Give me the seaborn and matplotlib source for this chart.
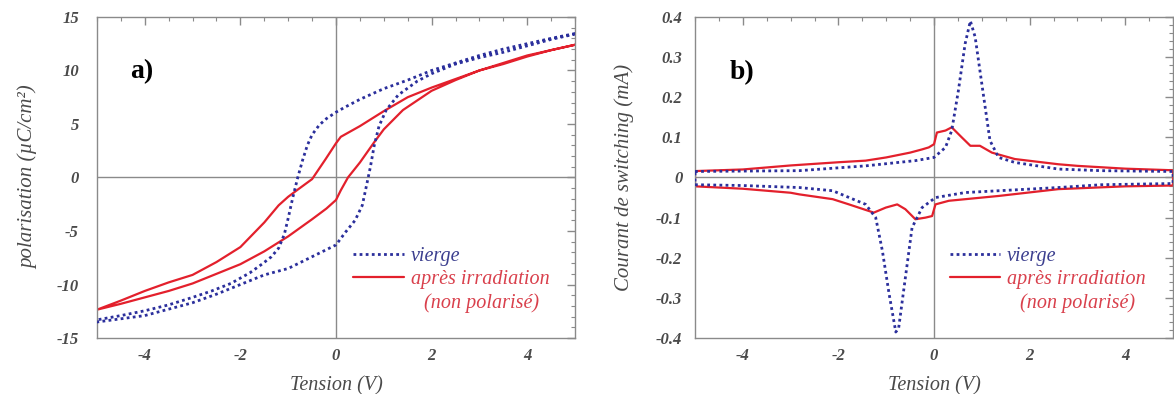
import numpy as np
import pandas as pd
import matplotlib
matplotlib.use("Agg")
import matplotlib.pyplot as plt
from matplotlib.lines import Line2D
from matplotlib.ticker import MultipleLocator
import seaborn as sns

# ---------------- data: panel a (polarisation hysteresis) ----------------
vierge_down_V = [5, 4.5, 4, 3.5, 3, 2.5, 2, 1.5, 1, 0.5, 0.2, 0, -0.2, -0.35, -0.5, -0.6, -0.7, -0.8, -0.9, -1.0,
                 -1.08, -1.2, -1.35, -1.55, -1.8, -2.2, -2.6, -3, -3.5, -4, -4.5, -5]
vierge_down_P = [13.45, 13.0, 12.5, 12.0, 11.4, 10.7, 10.0, 9.1, 8.3, 7.3, 6.6, 6.1, 5.5, 4.9, 4.0, 3.0, 1.6, 0, -1.8, -3.8,
                 -5.3, -6.6, -7.4, -8.1, -8.9, -9.9, -10.6, -11.2, -11.9, -12.45, -12.9, -13.3]
vierge_up_V = [-5, -4.5, -4, -3.5, -3, -2.5, -2, -1.5, -1, -0.5, 0, 0.2, 0.4, 0.55, 0.65, 0.72, 0.8, 0.9, 1.05, 1.3,
               1.7, 2, 2.5, 3, 3.5, 4, 4.5, 5]
vierge_up_P = [-13.5, -13.2, -12.9, -12.3, -11.7, -10.9, -10.0, -9.1, -8.5, -7.4, -6.3, -5.1, -4.0, -2.6, -0.5, 1.0, 3.0, 4.8, 6.3, 7.7,
               9.0, 9.7, 10.6, 11.2, 11.7, 12.3, 12.9, 13.4]

irr_down_V = [5, 4.5, 4, 3.5, 3, 2.5, 2, 1.5, 1, 0.5, 0.1, 0, -0.22, -0.5, -0.79, -1.0, -1.2, -1.5, -2.0, -2.5,
              -3, -3.5, -4, -4.5, -5]
irr_down_P = [12.4, 11.9, 11.3, 10.6, 10.0, 9.2, 8.4, 7.5, 6.2, 4.8, 3.8, 3.2, 1.7, -0.15, -1.1, -1.8, -2.6, -4.2, -6.5, -7.9,
              -9.1, -9.8, -10.6, -11.5, -12.35]
irr_up_V = [-5, -4.5, -4, -3.5, -3, -2.5, -2, -1.5, -1, -0.5, -0.2, 0, 0.1, 0.25, 0.5, 0.8, 1.0, 1.4, 2, 2.5,
            3, 3.5, 4, 4.5, 5]
irr_up_P = [-12.35, -11.8, -11.2, -10.6, -9.9, -9.0, -8.1, -6.9, -5.5, -3.9, -2.9, -2.1, -1.2, 0, 1.4, 3.3, 4.5, 6.3, 8.1, 9.1,
            10.0, 10.7, 11.4, 11.9, 12.4]

# ---------------- data: panel b (switching current) ----------------
vierge_pos_V = [-5, -4, -2.82, -1.43, -0.39, 0, 0.24, 0.37, 0.51, 0.65, 0.76, 0.86, 1.0, 1.17, 1.35, 1.69, 2.6, 3.5, 5]
vierge_pos_I = [0.015, 0.016, 0.017, 0.029, 0.042, 0.05, 0.075, 0.117, 0.217, 0.333, 0.39, 0.35, 0.233, 0.092, 0.05, 0.0375, 0.021, 0.017, 0.015]
vierge_neg_V = [5, 3.5, 2.6, 0.65, 0.03, -0.25, -0.46, -0.6, -0.74, -0.8, -0.94, -1.08, -1.22, -1.43, -2.12, -2.82, -4, -5]
vierge_neg_I = [-0.015, -0.018, -0.025, -0.0375, -0.05, -0.075, -0.125, -0.25, -0.375, -0.385, -0.29, -0.183, -0.1, -0.067, -0.033, -0.025, -0.02, -0.018]

irr_pos_V = [-5, -4, -3, -2, -1.43, -1.0, -0.5, -0.25, -0.11, 0, 0.06, 0.24, 0.37, 0.58, 0.76, 0.96, 1.21, 1.69, 2.6, 3, 4, 5]
irr_pos_I = [0.016, 0.02, 0.03, 0.038, 0.042, 0.05, 0.062, 0.07, 0.075, 0.083, 0.112, 0.117, 0.125, 0.1, 0.079, 0.079, 0.062, 0.046, 0.033, 0.029, 0.022, 0.018]
irr_neg_V = [5, 4, 3, 2.6, 1.35, 0.31, 0.03, -0.04, -0.18, -0.39, -0.6, -0.77, -1.01, -1.26, -1.78, -2.12, -2.82, -3, -4, -5]
irr_neg_I = [-0.02, -0.022, -0.027, -0.029, -0.046, -0.058, -0.067, -0.096, -0.1, -0.104, -0.079, -0.067, -0.075, -0.0875, -0.067, -0.054, -0.042, -0.038, -0.028, -0.022]

label_vierge = "vierge"
label_irr = "après irradiation"
label_irr2 = "(non polarisé)"

BLUE = "#2b2f9c"
RED = "#e3202c"
BLUE_TXT = "#3c3f8f"
RED_TXT = "#d9404c"
GREY = "#8a8a8a"
TICK_TXT = "#4a4a4a"
DOTS = (0, (1.0, 1.2))

sns.set_style("white")
plt.rcParams["font.family"] = ["Liberation Serif", "DejaVu Serif"]

fig = plt.figure(figsize=(11.74, 3.94), dpi=100)
ax_a = fig.add_axes([0.0826, 0.142, 0.4072, 0.815])
ax_b = fig.add_axes([0.592, 0.142, 0.4072, 0.815])


def loop_df(v1, y1, v2, y2):
    V = list(v1) + list(v2)
    Y = list(y1) + list(y2)
    return pd.DataFrame({"V": V, "Y": Y})


def closed_df(v1, y1, v2, y2):
    V = list(v1) + list(v2) + [v1[0]]
    Y = list(y1) + list(y2) + [y1[0]]
    return pd.DataFrame({"V": V, "Y": Y})


def draw(ax, df_v, df_r):
    ax.axhline(0, color=GREY, lw=1.0, zorder=1)
    ax.axvline(0, color=GREY, lw=1.0, zorder=1)
    sns.lineplot(data=df_v, x="V", y="Y", sort=False, estimator=None, ax=ax,
                 color=BLUE, linestyle=DOTS, lw=2.0, zorder=3)
    sns.lineplot(data=df_r, x="V", y="Y", sort=False, estimator=None, ax=ax,
                 color=RED, linestyle="-", lw=1.6, zorder=2)


draw(ax_a, loop_df(vierge_down_V, vierge_down_P, vierge_up_V, vierge_up_P),
     loop_df(irr_down_V, irr_down_P, irr_up_V, irr_up_P))
draw(ax_b, closed_df(vierge_pos_V, vierge_pos_I, vierge_neg_V, vierge_neg_I),
     closed_df(irr_pos_V, irr_pos_I, irr_neg_V, irr_neg_I))

ax_a.set_xlim(-5, 5)
ax_a.set_ylim(-15, 15)
ax_a.xaxis.set_major_locator(MultipleLocator(2))
ax_a.xaxis.set_minor_locator(MultipleLocator(0.5))
ax_a.yaxis.set_major_locator(MultipleLocator(5))
ax_a.yaxis.set_minor_locator(MultipleLocator(1))

ax_b.set_xlim(-5, 5)
ax_b.set_ylim(-0.4, 0.4)
ax_b.xaxis.set_major_locator(MultipleLocator(2))
ax_b.xaxis.set_minor_locator(MultipleLocator(0.5))
ax_b.yaxis.set_major_locator(MultipleLocator(0.1))
ax_b.yaxis.set_minor_locator(MultipleLocator(0.02))

ax_b.yaxis.set_major_formatter(plt.FuncFormatter(lambda v, p: "0" if abs(v) < 1e-9 else f"{v:.1f}"))
ax_a.xaxis.set_major_formatter(plt.FuncFormatter(lambda v, p: f"{int(round(v))}"))
ax_b.xaxis.set_major_formatter(plt.FuncFormatter(lambda v, p: f"{int(round(v))}"))
ax_a.yaxis.set_major_formatter(plt.FuncFormatter(lambda v, p: f"{int(round(v))}"))

for ax, ypad in ((ax_a, 13), (ax_b, 9)):
    for s in ax.spines.values():
        s.set_color(GREY)
        s.set_linewidth(1.0)
    ax.tick_params(which="both", direction="in", top=True, right=True, color=GREY,
                   labelcolor=TICK_TXT, labelsize=12)
    ax.tick_params(which="major", length=6, width=1.0, pad=7)
    ax.tick_params(axis="y", which="major", pad=ypad)
    ax.tick_params(which="minor", length=3, width=0.8)
    for lab in ax.get_xticklabels() + ax.get_yticklabels():
        lab.set_fontstyle("italic")
        lab.set_fontweight("bold")
    ax.set_xlabel("Tension (V)", fontsize=14.5, fontstyle="italic", color=TICK_TXT, labelpad=9)

ax_a.set_ylabel("polarisation (µC/cm²)", fontsize=15, fontstyle="italic", color=TICK_TXT, labelpad=13)
ax_b.set_ylabel("Courant de switching (mA)", fontsize=15, fontstyle="italic", color=TICK_TXT, labelpad=16)

ax_a.text(-4.31, 9.9, "a)", fontsize=20, fontweight="bold", color="black", va="center", ha="left")
ax_b.text(-4.27, 0.262, "b)", fontsize=20, fontweight="bold", color="black", va="center", ha="left")

for ax, anchor in ((ax_a, (0.536, 0.283)), (ax_b, (0.533, 0.283))):
    handles = [Line2D([], [], color=BLUE, linestyle=DOTS, lw=2.0),
               Line2D([], [], color=RED, lw=1.6),
               Line2D([], [], color="none", lw=0)]
    leg = ax.legend(handles, [label_vierge, label_irr, label_irr2], loc="upper left",
                    bbox_to_anchor=anchor, borderaxespad=0, borderpad=0, frameon=False,
                    handlelength=2.5, handletextpad=0.35, labelspacing=0.2,
                    prop={"family": "Liberation Serif", "style": "italic", "size": 14.5})
    texts = leg.get_texts()
    texts[0].set_color(BLUE_TXT)
    texts[1].set_color(RED_TXT)
    texts[2].set_color(RED_TXT)
    texts[2].set_x(13)

fig.savefig("out.png", dpi=100)
